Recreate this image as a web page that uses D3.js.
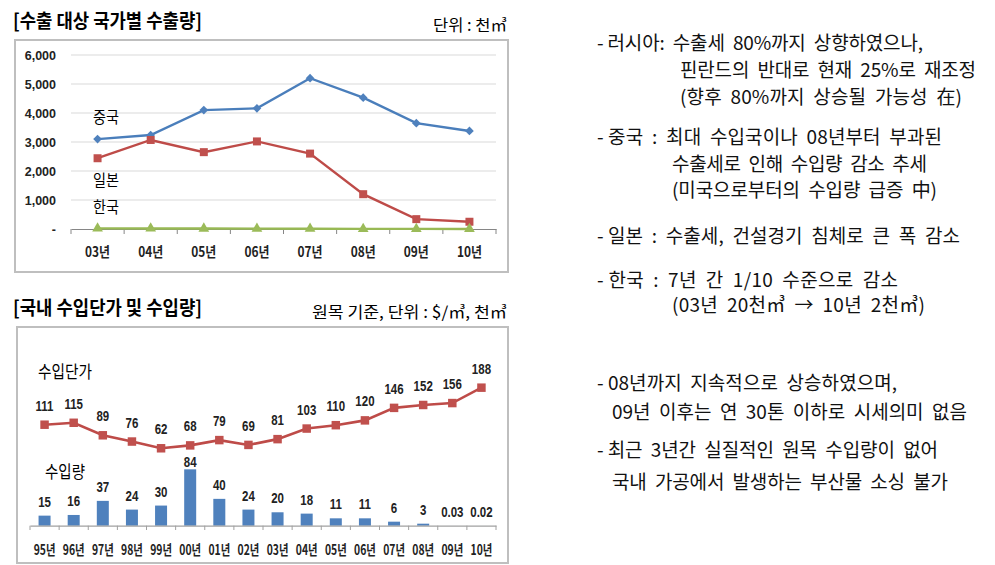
<!DOCTYPE html>
<html><head><meta charset="utf-8">
<script src="https://cdn.jsdelivr.net/npm/d3@7"></script>
<style>body{margin:0;background:#fff}svg{display:block}</style>
</head><body>
<svg id="c" width="995" height="565"></svg>
<script>
// ---- data ----
const years1 = ["03년","04년","05년","06년","07년","08년","09년","10년"];
const china  = [3100,3240,4100,4160,5200,4530,3650,3380];
const japan  = [2440,3070,2650,3020,2600,1200,340,250];
const korea  = [20,18,15,12,10,5,3,2];
const yTicks1 = [0,1000,2000,3000,4000,5000,6000];
const yTickLabels1 = ["-","1,000","2,000","3,000","4,000","5,000","6,000"];

const years2 = ["95년","96년","97년","98년","99년","00년","01년","02년","03년","04년","05년","06년","07년","08년","09년","10년"];
const price  = [111,115,89,76,62,68,79,69,81,103,110,120,146,152,156,188];
const volume = [15,16,37,24,30,84,40,24,20,18,11,11,6,3,0.03,0.02];

const notes = [
  {t:"- 러시아:  수출세  80%까지  상향하였으나,", x:597, y:43, w:326},
  {t:"핀란드의  반대로  현재  25%로  재조정", x:680, y:70, w:296},
  {t:"(향후  80%까지  상승될  가능성  在)", x:680, y:97, w:282},
  {t:"- 중국  :  최대  수입국이나  08년부터  부과된", x:597, y:137, w:345},
  {t:"수출세로  인해  수입량  감소  추세", x:672, y:164, w:255},
  {t:"(미국으로부터의  수입량  급증  中)", x:672, y:190, w:265},
  {t:"- 일본  :  수출세,  건설경기  침체로  큰  폭  감소", x:597, y:236, w:363},
  {t:"- 한국  :  7년  간  1/10  수준으로  감소", x:597, y:280, w:301},
  {t:"(03년  20천㎥  →  10년  2천㎥)", x:672, y:305, w:253},
  {t:"- 08년까지  지속적으로  상승하였으며,", x:597, y:383, w:300},
  {t:"09년  이후는  연  30톤  이하로  시세의미  없음", x:612, y:412, w:355},
  {t:"- 최근  3년간  실질적인  원목  수입량이  없어", x:597, y:450, w:341},
  {t:"국내  가공에서  발생하는  부산물  소싱  불가", x:612, y:482, w:336}
];

const svg = d3.select("#c");
const KR = "'Noto Sans CJK KR', 'Noto Sans', sans-serif";
const NUM = "'Liberation Sans Narrow', 'Liberation Sans', 'Noto Sans CJK KR', sans-serif";

function squeeze(sel, f){
  sel.each(function(){
    const w = this.getComputedTextLength();
    d3.select(this).attr("textLength", w*f).attr("lengthAdjust","spacingAndGlyphs");
  });
}
function fit(sel, w){
  sel.attr("textLength", w).attr("lengthAdjust","spacingAndGlyphs");
}

// ---------- titles ----------
svg.append("text").attr("x",13).attr("y",28).attr("font-family",KR).attr("font-weight",700)
  .attr("font-size",19).text("[수출 대상 국가별 수출량]").call(fit,189);
svg.append("text").attr("x",433).attr("y",31).attr("font-family",KR)
  .attr("font-size",16).text("단위 : 천㎥").call(fit,74);
svg.append("text").attr("x",13).attr("y",315).attr("font-family",KR).attr("font-weight",700)
  .attr("font-size",19).text("[국내 수입단가 및 수입량]").call(fit,189);
svg.append("text").attr("x",312).attr("y",318).attr("font-family",KR)
  .attr("font-size",16).text("원목 기준, 단위 : $/㎥, 천㎥").call(fit,195);

// ---------- chart 1 ----------
svg.append("rect").attr("x",15).attr("y",40).attr("width",493).attr("height",232)
  .attr("fill","#fff").attr("stroke","#bfbfbf").attr("stroke-width",2);

const x1 = d3.scaleBand().domain(years1).range([71,496]);
const y1 = d3.scaleLinear().domain([0,6000]).range([229,55]);

svg.append("g").selectAll("line").data(yTicks1.filter(d=>d>0)).join("line")
  .attr("x1",71).attr("x2",496).attr("y1",d=>y1(d)).attr("y2",d=>y1(d))
  .attr("stroke","#d9d9d9").attr("stroke-width",1);

svg.append("g").selectAll("text").data(yTicks1).join("text")
  .attr("x",56).attr("y",d=>y1(d)+4.5).attr("text-anchor","end")
  .attr("font-family","'Liberation Sans', Arial, sans-serif").attr("font-weight",700).attr("font-size",12.5)
  .attr("fill","#222").text((d,i)=>yTickLabels1[i]);

const ax1 = svg.append("g").attr("transform","translate(0,229)")
  .call(d3.axisBottom(x1).tickSize(0).tickFormat(""));
ax1.select(".domain").attr("stroke","#868686").attr("stroke-width",1.2);
svg.append("g").selectAll("line").data(d3.range(years1.length+1)).join("line")
  .attr("x1",i=>x1.range()[0]+i*x1.step()).attr("x2",i=>x1.range()[0]+i*x1.step())
  .attr("y1",229).attr("y2",234).attr("stroke","#868686");

svg.append("g").selectAll("text").data(years1).join("text")
  .attr("x",d=>x1(d)+x1.bandwidth()/2).attr("y",257).attr("text-anchor","middle")
  .attr("font-family",KR).attr("font-weight",700).attr("font-size",14).attr("fill","#222")
  .text(d=>d).call(squeeze,0.85);

const line1 = d3.line().x((d,i)=>x1(years1[i])+x1.bandwidth()/2).y(d=>y1(d));
const series1 = [
  {v:china, line:"#4a7ebb", fill:"#4f81bd", sym:d3.symbolSquare, size:38, rot:45},
  {v:japan, line:"#be4b48", fill:"#c0504d", sym:d3.symbolSquare, size:64, rot:0},
  {v:korea, line:"#98b954", fill:"#9bbb59", sym:d3.symbolTriangle, size:50, rot:0}
];
series1.forEach(s=>{
  svg.append("path").attr("d",line1(s.v)).attr("fill","none").attr("stroke",s.line).attr("stroke-width",2.4);
  svg.append("g").selectAll("path").data(s.v).join("path")
    .attr("transform",(d,i)=>`translate(${x1(years1[i])+x1.bandwidth()/2},${y1(d)}) rotate(${s.rot})`)
    .attr("d",d3.symbol().type(s.sym).size(s.size)).attr("fill",s.fill);
});

[["중국",123],["일본",186],["한국",213]].forEach(([t,y])=>{
  svg.append("text").attr("x",93).attr("y",y).attr("font-family",KR).attr("font-size",16)
    .text(t).call(fit,26);
});

// ---------- chart 2 ----------
svg.append("rect").attr("x",17).attr("y",327).attr("width",491).attr("height",236)
  .attr("fill","#fff").attr("stroke","#bfbfbf").attr("stroke-width",2);

const x2 = d3.scaleBand().domain(years2).range([30,496]);
const yVol = d3.scaleLinear().domain([0,100]).range([525.7,458.6]);
const yPrice = d3.scaleLinear().domain([0,200]).range([478.1,381.9]);
const cx2 = d => x2(d)+x2.bandwidth()/2;

svg.append("g").selectAll("rect").data(volume).join("rect")
  .attr("x",(d,i)=>cx2(years2[i])-6).attr("width",12)
  .attr("y",d=>yVol(d)).attr("height",d=>525.7-yVol(d)).attr("fill","#4f81bd");

const ax2 = svg.append("g").attr("transform","translate(0,525.7)")
  .call(d3.axisBottom(x2).tickSize(0).tickFormat(""));
ax2.select(".domain").attr("stroke","#a0a0a0").attr("stroke-width",1.2);
svg.append("g").selectAll("line").data(d3.range(years2.length+1)).join("line")
  .attr("x1",i=>x2.range()[0]+i*x2.step()).attr("x2",i=>x2.range()[0]+i*x2.step())
  .attr("y1",525.7).attr("y2",530).attr("stroke","#a0a0a0");

svg.append("g").selectAll("text").data(years2).join("text")
  .attr("x",d=>cx2(d)).attr("y",555).attr("text-anchor","middle")
  .attr("font-family",KR).attr("font-weight",700).attr("font-size",14).attr("fill","#222")
  .text(d=>d).call(squeeze,0.74);

const line2 = d3.line().x((d,i)=>cx2(years2[i])).y(d=>yPrice(d));
svg.append("path").attr("d",line2(price)).attr("fill","none").attr("stroke","#be4b48").attr("stroke-width",2.6);
svg.append("g").selectAll("path").data(price).join("path")
  .attr("transform",(d,i)=>`translate(${cx2(years2[i])},${yPrice(d)})`)
  .attr("d",d3.symbol().type(d3.symbolSquare).size(72)).attr("fill","#c0504d");

svg.append("g").selectAll("text").data(price).join("text")
  .attr("x",(d,i)=>cx2(years2[i])).attr("y",d=>yPrice(d)-14).attr("text-anchor","middle")
  .attr("font-family",NUM).attr("font-weight",700).attr("font-size",14).attr("fill","#222")
  .text(d=>d).call(squeeze,0.82);

svg.append("g").selectAll("text").data(volume).join("text")
  .attr("x",(d,i)=>cx2(years2[i]))
  .attr("y",(d,i)=>Math.max(yVol(d)-9, yPrice(price[i])+22))
  .attr("text-anchor","middle")
  .attr("font-family",NUM).attr("font-weight",700).attr("font-size",14).attr("fill","#222")
  .text(d=>String(d)).call(squeeze,0.82);

svg.append("text").attr("x",38).attr("y",378).attr("font-family",KR).attr("font-size",17)
  .text("수입단가").call(fit,54);
svg.append("text").attr("x",45).attr("y",478).attr("font-family",KR).attr("font-size",17)
  .text("수입량").call(fit,40);

// ---------- notes ----------
svg.append("g").selectAll("text").data(notes).join("text")
  .attr("x",d=>d.x).attr("y",d=>d.y+7).attr("font-family",KR).attr("font-size",19)
  .attr("fill","#111").attr("xml:space","preserve").style("white-space","pre")
  .text(d=>d.t).each(function(d){ d3.select(this).attr("textLength",d.w).attr("lengthAdjust","spacing"); });
</script>
</body></html>
